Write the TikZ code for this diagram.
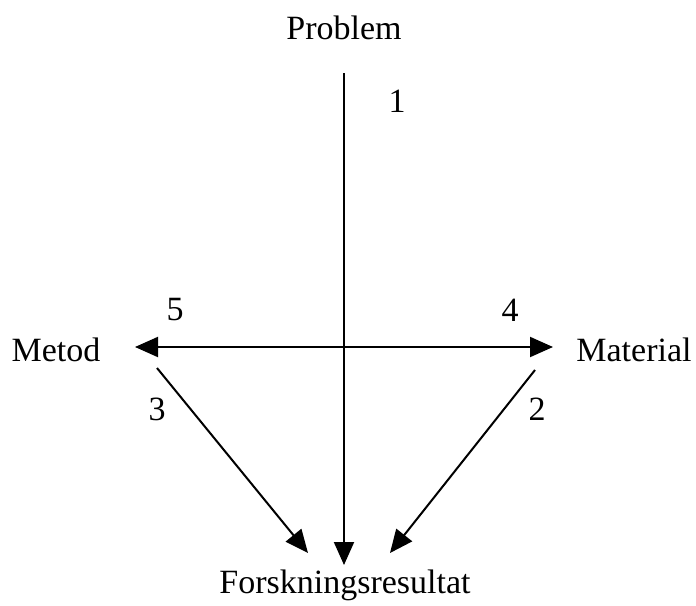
\documentclass[tikz,border=0pt]{standalone}
\usepackage{fontspec}
\setmainfont{Liberation Serif}
\usepackage{tikz}
\usetikzlibrary{arrows.meta}

\tikzset{
  lbl/.style={inner sep=0, font=\fontsize{17}{20}\selectfont},
  arr/.style={-{Triangle[length=11.5pt, width=10pt]}, line width=1pt}
}

\begin{document}
\begin{tikzpicture}[x=0.5pt, y=-0.5pt]

  \useasboundingbox (0, 0) rectangle (696, 605);

  \node[lbl] (problem) at (344, 28) { Problem };
  \node[lbl] (result) at (345, 585) { Forskningsresultat };
  \node[lbl] (metod) at (56, 350) { Metod };
  \node[lbl] (material) at (634, 350) { Material };

  \node[lbl] (n1) at (397, 101) { 1 };
  \node[lbl] (n2) at (537, 409) { 2 };
  \node[lbl] (n3) at (157, 409) { 3 };
  \node[lbl] (n4) at (510, 310) { 4 };
  \node[lbl] (n5) at (175, 310) { 5 };

  \draw[arr] ([shift={(0, 45)}]problem.center) -- ([shift={(-1, -20)}]result.center);
  \draw[arr, {Triangle[length=11.5pt, width=10pt]}-{Triangle[length=11.5pt, width=10pt]}]
    ([shift={(79, -3)}]metod.center) -- ([shift={(-81, -3)}]material.center);
  \draw[arr] ([shift={(101, 18)}]metod.center) -- ([shift={(-37, -32)}]result.center);
  \draw[arr] ([shift={(-99, 20)}]material.center) -- ([shift={(45, -32)}]result.center);

\end{tikzpicture}
\end{document}
